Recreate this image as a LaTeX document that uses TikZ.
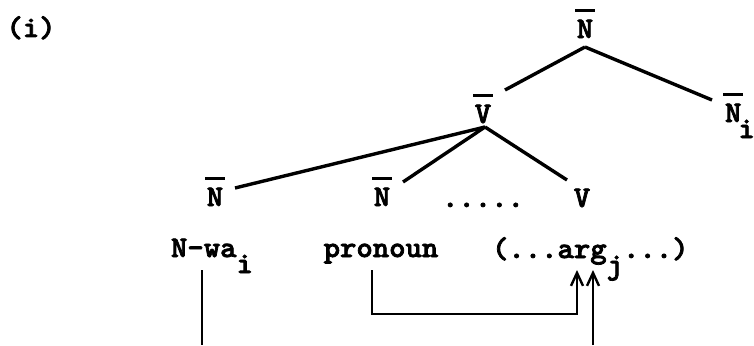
\documentclass[tikz,border=0pt]{standalone}
\usepackage{fontspec}
\usetikzlibrary{arrows.meta}
\newfontfamily\tw{lmmonolt10-bold.otf}[FakeStretch=1.04,FakeBold=2.5]
\newcommand\ovl[1]{\setbox0\hbox{#1}\vbox{\offinterlineskip\hbox to\wd0{\hss\rule{1.2\wd0}{2.6pt}\hss}\kern8pt\box0}}
\newcommand\low[1]{\raisebox{-16pt}{#1}}
\tikzset{
  lbl/.style={inner sep=0pt,outer sep=0pt,font=\tw\fontsize{30}{32}\selectfont},
  edge/.style={line width=3.4pt},
  link/.style={line width=2.3pt},
  tip/.style={-{Straight Barb[length=13pt,width=12pt,line width=2.4pt]}}
}
\begin{document}
\begin{tikzpicture}[x=1pt,y=-1pt]
\useasboundingbox (0,0) rectangle (754,345);
\node[lbl,anchor=base] (lab) at (31,37) {(i)};
\node[lbl,anchor=base] (topN) at (585,38) {\ovl{N}};
\node[lbl,anchor=base] (Vbar) at (483,123) {\ovl{V}};
\node[lbl,anchor=base west] (Ni) at (725,122) {\ovl{N}\kern-3pt\low{i}};
\node[lbl,anchor=base] (Nl) at (215,206) {\ovl{N}};
\node[lbl,anchor=base] (Nm) at (382,206) {\ovl{N}};
\node[lbl,anchor=base] (dots) at (483,207) {.....};
\node[lbl,anchor=base] (Vv) at (582,207) {V};
\node[lbl,anchor=base west] (Nwa) at (171,257) {N-wa\low{i}};
\node[lbl,anchor=base] (pron) at (381,257) {pronoun};
\node[lbl,anchor=base west] (arg) at (492,258) {(...arg\low{j}...)};
\coordinate (nwaEnd) at (202,345);
\coordinate (argEnd) at (593,345);
% tree edges
\draw[edge] ([shift={(0,9)}]topN.base) -- ([shift={(22,-33)}]Vbar.base);
\draw[edge] ([shift={(0,9)}]topN.base) -- ([shift={(-13,-22)}]Ni.base west);
\draw[edge] ([shift={(2,4)}]Vbar.base) -- ([shift={(20,-18)}]Nl.base);
\draw[edge] ([shift={(2,4)}]Vbar.base) -- ([shift={(21,-24)}]Nm.base);
\draw[edge] ([shift={(2,4)}]Vbar.base) -- ([shift={(-15,-27)}]Vv.base);
% links
\draw[link] ([shift={(31,13)}]Nwa.base west) -- (nwaEnd);
\draw[link,tip] ([shift={(-9,13)}]pron.base) |- ([shift={(85,56)}]arg.base west) -- ([shift={(85,12)}]arg.base west);
\draw[link,tip] (argEnd) -- ([shift={(101,12)}]arg.base west);
\end{tikzpicture}
\end{document}
